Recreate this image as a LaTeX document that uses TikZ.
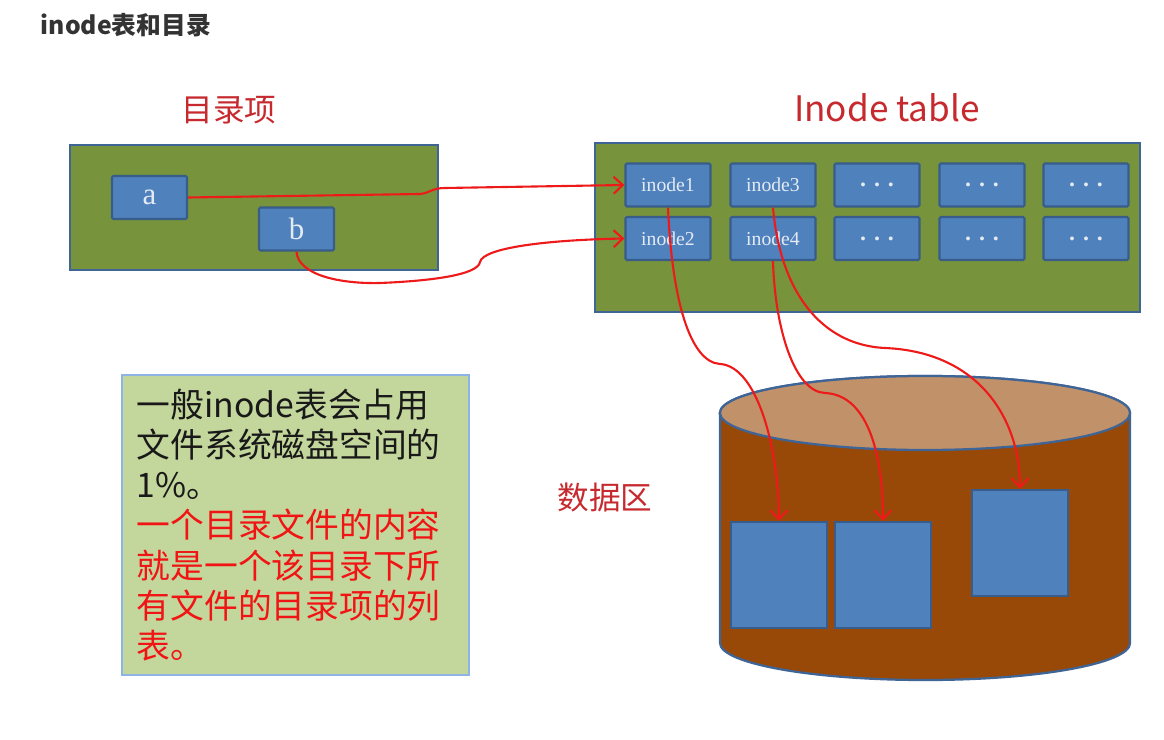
\documentclass[tikz,border=0pt]{standalone}
\usepackage{fontspec}
\setmainfont{Liberation Serif}
\newfontfamily\cjk{Noto Sans CJK SC}
\usetikzlibrary{arrows.meta}
\definecolor{boxgreen}{HTML}{77933C}
\definecolor{boxedge}{HTML}{3F6496}
\definecolor{cellblue}{HTML}{4F81BD}
\definecolor{celledge}{HTML}{385D8A}
\definecolor{celltext}{HTML}{E4EAF2}
\definecolor{notegreen}{HTML}{C3D69B}
\definecolor{noteedge}{HTML}{8EB4E3}
\definecolor{diskbody}{HTML}{984807}
\definecolor{disktop}{HTML}{C1916A}
\definecolor{headred}{HTML}{C62A2E}
\definecolor{notered}{HTML}{F01414}
\definecolor{linkred}{HTML}{EE1A1A}
\tikzset{
x=0.025cm, y=-0.025cm, % one unit is one pixel of the reference
>={Straight Barb[length=6.5pt,width=12pt]}, % open barbs like the hand drawn ones
outerbox/.style={draw=boxedge, line width=2pt, fill=boxgreen},
cell/.style={draw=celledge, line width=1.6pt, fill=cellblue, text=celltext, rounded corners=1pt,
  minimum width=2.125cm, minimum height=1.075cm, inner sep=0pt, font=\fontsize{14}{14}\selectfont},
entry/.style={cell, minimum width=1.875cm, font=\fontsize{22}{22}\selectfont},
block/.style={draw=celledge, line width=1.6pt, fill=cellblue, minimum width=2.4cm, minimum height=2.65cm},
heading/.style={text=headred, font=\cjk\fontsize{22.5}{22.5}\selectfont},
link/.style={->, draw=linkred, line width=1.5pt},
}
\begin{document}
\begin{tikzpicture}
    \useasboundingbox (0,0) rectangle (1164,740);
    \node[anchor=west, text=black!80, font=\cjk\bfseries\fontsize{17.6}{17.6}\selectfont] at (36,25) (title) {inode表和目录};
    % directory entries
    \node[heading] at (229,110) (dirhead) {目录项};
    \node[outerbox, minimum width=9.2cm, minimum height=3.125cm] at (254,207.5) (dir) {};
    \node[entry] at (149.5,197.5) (a) {a};
    \node[entry] at (296.5,229) (b) {b};
    % inode table
    \node[heading, font=\cjk\fontsize{25}{25}\selectfont] at (887,108) (tabhead) {Inode table};
    \node[outerbox, minimum width=13.625cm, minimum height=4.225cm] at (867.5,227.5) (table) {};
    \node[cell] at (668,185) (i1) {inode1};
    \node[cell] at (668,238.5) (i2) {inode2};
    \node[cell] at (773,185) (i3) {inode3};
    \node[cell] at (773,238.5) (i4) {inode4};
    \foreach \x/\n in {877/5, 982/7, 1086/9} {
        \node[cell, font=\bfseries\fontsize{17}{17}\selectfont] at (\x,185) (i\n) {.\,\,.\,\,.};
        \node[cell, font=\bfseries\fontsize{17}{17}\selectfont] at (\x,238.5) (j\n) {.\,\,.\,\,.};
    }
    % data area
    \node[heading] at (605,498) (datahead) {数据区};
    \draw[draw=boxedge, line width=1.6pt, fill=diskbody]
    (720,413) -- (720,643) arc[start angle=180, end angle=360, x radius=5.125cm, y radius=0.925cm]
    -- (1130,413) arc[start angle=0, end angle=180, x radius=5.125cm, y radius=0.925cm] -- cycle;
    \draw[draw=boxedge, line width=1.6pt, fill=disktop] (925,413) ellipse [x radius=5.125cm, y radius=0.925cm];
    \node[block] at (779,575) (d1) {};
    \node[block] at (883,575) (d2) {};
    \node[block] at (1020,543) (d3) {};
    % note
    \node[draw=noteedge, line width=1pt, fill=notegreen, minimum width=8.675cm, minimum height=7.5cm,
      text width=7.925cm, inner xsep=0.375cm, align=left, text=black!90,
      font=\cjk\fontsize{24}{28.6}\selectfont] at (295.5,525) (note) {%
      一般inode表会占用\\
      文件系统磁盘空间的\\
      1\%。\\
      \textcolor{notered}{一个目录文件的内容}\\
      \textcolor{notered}{就是一个该目录下所}\\
      \textcolor{notered}{有文件的目录项的列}\\
      \textcolor{notered}{表。}};
    % links
    \draw[link] (a.east) -- (420,194) .. controls (430,193) and (432,188) .. (445,188) -- (i1.west);
    \draw[link] (b.south) .. controls (298,275) and (340,284) .. (380,283)
      .. controls (430,281) and (478,275) .. (480,262)
      .. controls (483,248) and (545,240) .. (i2.west);
    \draw[link] (i1.south) .. controls (672,300) and (690,362) .. (720,364)
      .. controls (755,366) and (778,440) .. (d1.north);
    \draw[link] (i4.south) .. controls (775,330) and (795,392) .. (825,393)
      .. controls (870,395) and (883,460) .. (d2.north);
    \draw[link] (i3.south) .. controls (780,290) and (820,345) .. (885,348)
      .. controls (980,352) and (1020,420) .. (d3.north);
\end{tikzpicture}
\end{document}
